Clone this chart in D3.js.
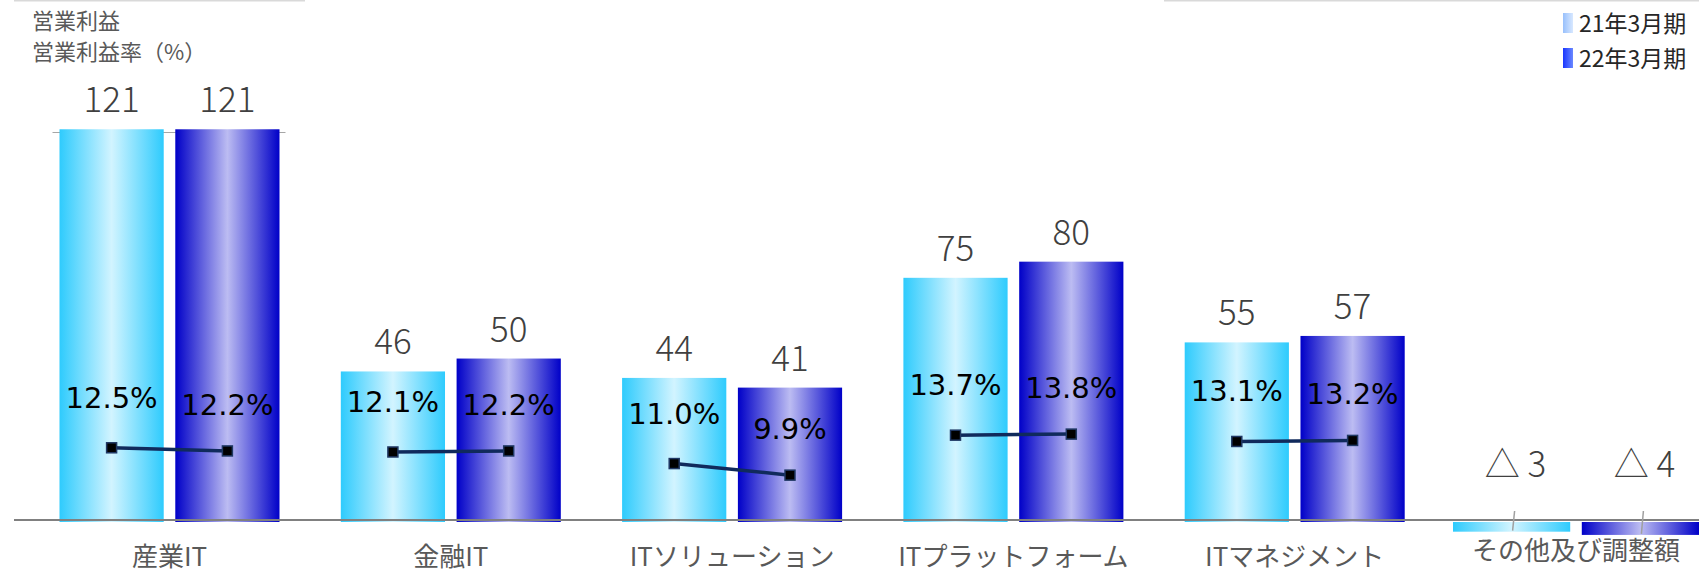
<!DOCTYPE html>
<html>
<head>
<meta charset="utf-8">
<script src="https://cdn.jsdelivr.net/npm/d3@7"></script>
<style>
  body { margin: 0; background: #fff; }
  svg { display: block; font-family: 'Noto Sans CJK JP', 'Noto Sans', sans-serif; }
</style>
</head>
<body>
<svg width="1699" height="569"></svg>
<script>
'use strict';

const categories = ['産業IT', '金融IT', 'ITソリューション', 'ITプラットフォーム', 'ITマネジメント', 'その他及び調整額'];
const seriesNames = ['21年3月期', '22年3月期'];
const profit21 = [121, 46, 44, 75, 55, -3];
const profit22 = [121, 50, 41, 80, 57, -4];
const margin21 = [12.5, 12.1, 11.0, 13.7, 13.1, null];
const margin22 = [12.2, 12.2, 9.9, 13.8, 13.2, null];
const titleLines = ['営業利益', '営業利益率（%）'];

const profits = [profit21, profit22];
const margins = [margin21, margin22];

const svg = d3.select('svg');
const width = +svg.attr('width');

const x0 = d3.scalePoint().domain(categories).range([169.5, 1576]);
const x1 = d3.scaleBand().domain(seriesNames).range([-110, 110]).paddingInner(0.1);
// the last group is drawn a little wider in the original
const x1Wide = d3.scaleBand().domain(seriesNames).range([-123, 123]).paddingInner(0.09);
const y = d3.scaleLinear().domain([0, 120]).range([520, 132.5]);
const y2 = d3.scaleLinear().domain([0, 14]).range([579.3, 432]);

const inner = c => c === categories[categories.length - 1] ? x1Wide : x1;
const barX = (c, s) => x0(c) + inner(c)(s);
const barW = c => inner(c).bandwidth();
const barMid = (c, s) => barX(c, s) + barW(c) / 2;

// gradients
const defs = svg.append('defs');
const grad = (id, stops) => {
  const g = defs.append('linearGradient').attr('id', id)
    .attr('x1', 0).attr('x2', 1).attr('y1', 0).attr('y2', 0);
  stops.forEach(([o, c]) => g.append('stop').attr('offset', o).attr('stop-color', c));
};
grad('bar0', [[0, '#2ecbfd'], [0.5, '#d2f4ff'], [1, '#2ecbfd']]);
grad('bar1', [[0, '#0000c8'], [0.5, '#bcbcf2'], [1, '#0000c8']]);
grad('leg0', [[0, '#98c0fc'], [1, '#d8e8ff']]);
grad('leg1', [[0, '#1a36ff'], [1, '#6a88ff']]);

// top rules
svg.append('line').attr('x1', 14).attr('x2', 305).attr('y1', 0.5).attr('y2', 0.5)
  .attr('stroke', '#d9d9d9').attr('stroke-width', 2);
svg.append('line').attr('x1', 1164).attr('x2', width).attr('y1', 0.5).attr('y2', 0.5)
  .attr('stroke', '#d9d9d9').attr('stroke-width', 2);

// gridline (only visible around first group)
svg.append('line')
  .attr('x1', barX(categories[0], seriesNames[0]) - 7)
  .attr('x2', barX(categories[0], seriesNames[1]) + barW(categories[0]) + 6)
  .attr('y1', y(120)).attr('y2', y(120))
  .attr('stroke', '#a6a6a6').attr('stroke-width', 1);

// bars
seriesNames.forEach((s, si) => {
  svg.append('g').selectAll('rect')
    .data(categories.map((c, i) => ({c, v: profits[si][i]})))
    .join('rect')
    .attr('x', d => barX(d.c, s))
    .attr('width', d => barW(d.c))
    .attr('y', d => d.v >= 0 ? y(d.v) : y(0) + 2)
    .attr('height', d => Math.abs(y(d.v) - y(0)) + (d.v >= 0 ? 2 : 0))
    .attr('fill', `url(#bar${si})`);
});

// baseline
svg.append('line').attr('x1', 14).attr('x2', width).attr('y1', y(0)).attr('y2', y(0))
  .attr('stroke', '#808080').attr('stroke-width', 2);

// value labels
const fmtVal = v => v < 0 ? `△ ${-v}` : `${v}`;
seriesNames.forEach((s, si) => {
  const g = svg.append('g')
    .attr('font-size', 35).attr('font-weight', 300).attr('fill', '#404040')
    .attr('text-anchor', 'middle');
  categories.forEach((c, i) => {
    const v = profits[si][i];
    g.append('text')
      .attr('x', barMid(c, s) + (v < 0 ? 4 : 0))
      .attr('y', v >= 0 ? y(v) - 17 : y(0) - 43)
      .text(fmtVal(v));
    if (v < 0) {
      svg.append('line')
        .attr('x1', barMid(c, s) + 3).attr('y1', y(0) - 9)
        .attr('x2', barMid(c, s) + 1).attr('y2', y(v) + 1)
        .attr('stroke', '#a0a0a0').attr('stroke-width', 1.5);
    }
  });
});

// margin lines and markers
const fmtPct = d3.format('.1f');
const labelOffset = [40, 36];
categories.forEach((c, i) => {
  if (margin21[i] == null) return;
  svg.append('line')
    .attr('x1', barMid(c, seriesNames[0])).attr('y1', y2(margin21[i]))
    .attr('x2', barMid(c, seriesNames[1])).attr('y2', y2(margin22[i]))
    .attr('stroke', '#102a5c').attr('stroke-width', 3.5);
});
seriesNames.forEach((s, si) => {
  categories.forEach((c, i) => {
    const m = margins[si][i];
    if (m == null) return;
    svg.append('rect')
      .attr('x', barMid(c, s) - 5).attr('y', y2(m) - 5)
      .attr('width', 10).attr('height', 10)
      .attr('fill', '#000').attr('stroke', '#1f3864').attr('stroke-width', 1.5);
    svg.append('text')
      .attr('x', barMid(c, s)).attr('y', y2(m) - labelOffset[si])
      .attr('text-anchor', 'middle').attr('font-size', 29).attr('fill', '#000')
      .attr('font-family', "'DejaVu Sans', sans-serif")
      .text(`${fmtPct(m)}%`);
  });
});

// category labels
svg.append('g').selectAll('text')
  .data(categories)
  .join('text')
  .attr('x', d => x0(d))
  .attr('y', (d, i) => profit21[i] < 0 ? 560 : 566)
  .attr('text-anchor', 'middle').attr('font-size', 26).attr('fill', '#595959')
  .text(d => d);

// title
svg.append('g').selectAll('text')
  .data(titleLines)
  .join('text')
  .attr('x', 32).attr('y', (d, i) => 29 + i * 31)
  .attr('font-size', 22).attr('fill', '#595959')
  .text(d => d);

// legend
const legend = svg.append('g').attr('transform', 'translate(1563,13)');
seriesNames.forEach((s, si) => {
  legend.append('rect').attr('x', 0).attr('y', si * 35).attr('width', 10).attr('height', 20)
    .attr('fill', `url(#leg${si})`);
  legend.append('text').attr('x', 16).attr('y', si * 35 + 19)
    .attr('font-size', 23).attr('fill', '#262626').text(s);
});
</script>
</body>
</html>
